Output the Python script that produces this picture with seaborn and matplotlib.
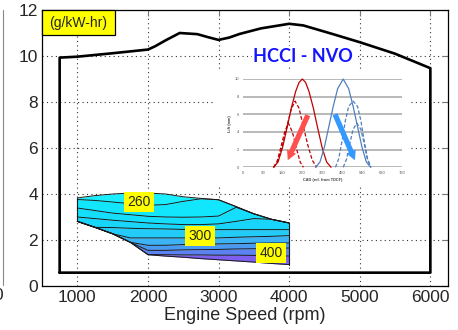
import matplotlib
matplotlib.use("Agg")
import matplotlib.pyplot as plt
import seaborn as sns
from matplotlib.patches import Rectangle
from matplotlib.lines import Line2D

sns.set_style("white")
plt.rcParams['font.family'] = ['Liberation Sans', 'DejaVu Sans']

# ---------------- data ----------------
# full-load BMEP envelope (bar) vs engine speed (rpm)
top_rpm = [750, 1000, 1500, 2000, 2100, 2250, 2450, 2700, 2850, 3000, 3150, 3300, 3600, 4000, 4200, 4600, 5000, 5500, 6000]
top_bmep = [9.93, 9.97, 10.12, 10.28, 10.42, 10.68, 11.0, 10.95, 10.82, 10.7, 10.8, 10.96, 11.2, 11.4, 11.33, 10.97, 10.6, 10.1, 9.47]
floor_bmep = 0.58

# HCCI BSFC map region: contour lines (load, bar) at rpm grid
map_rpm = [1000, 1250, 1500, 1750, 2000, 2250, 2500, 2750, 3000, 3250, 3500, 3750, 4000]
load_top = [3.83, 3.93, 4.00, 4.04, 4.04, 4.00, 3.88, 3.81, 3.75, 3.45, 3.14, 2.90, 2.74]
load_c1 = [3.76, 3.72, 3.65, 3.58, 3.51, 3.54, 3.68, 3.79, 3.75, 3.45, 3.14, 2.90, 2.74]
load_c2 = [3.39, 3.28, 3.17, 3.10, 3.03, 3.00, 2.99, 3.00, 3.04, 3.42, 3.14, 2.90, 2.74]
load_c3 = [3.00, 2.93, 2.86, 2.80, 2.74, 2.70, 2.67, 2.67, 2.70, 2.81, 2.93, 2.90, 2.74]
load_c4 = [2.81, 2.55, 2.54, 2.51, 2.49, 2.48, 2.46, 2.45, 2.45, 2.45, 2.45, 2.45, 2.45]
load_c5 = [2.81, 2.55, 2.27, 2.09, 2.09, 2.09, 2.09, 2.09, 2.09, 2.12, 2.14, 2.16, 2.19]
load_c6 = [2.81, 2.55, 2.27, 1.90, 1.77, 1.77, 1.80, 1.80, 1.83, 1.84, 1.86, 1.87, 1.87]
load_c7 = [2.81, 2.55, 2.27, 1.90, 1.55, 1.55, 1.57, 1.58, 1.59, 1.61, 1.62, 1.64, 1.65]
load_c8 = [2.81, 2.55, 2.27, 1.90, 1.37, 1.36, 1.35, 1.35, 1.34, 1.34, 1.33, 1.32, 1.30]
load_bot = [2.81, 2.55, 2.27, 1.90, 1.36, 1.30, 1.25, 1.19, 1.14, 1.09, 1.04, 0.98, 0.93]
band_colors = ['#19eeff', '#12e6fd', '#14defb', '#18d6fa', '#22cbf8', '#3bb3f5', '#4a9af2', '#5b82f0', '#7f5ff0']

bsfc_labels = ['260', '300', '400']
bsfc_rpm = [1873, 2738, 3743]
bsfc_load = [3.65, 2.17, 1.43]

# inset: valve lift (mm) vs crank angle (deg)
exh_cad = [140, 160, 180, 200, 220, 240, 255, 270, 285, 300, 320, 340, 360, 380, 400]
exh_lift = [0, 0.6, 2.2, 4.4, 6.7, 8.6, 9.6, 10, 9.6, 8.6, 6.7, 4.4, 2.2, 0.6, 0]
exh_mid_cad = [140, 160, 180, 200, 220, 237, 255, 275, 295, 315, 335]
exh_mid_lift = [0, 0.8, 2.5, 4.6, 6.6, 7.5, 6.7, 4.6, 2.5, 0.8, 0]
exh_low_cad = [140, 155, 170, 190, 207, 225, 245, 260, 275]
exh_low_lift = [0, 0.6, 2.0, 4.0, 5.0, 4.0, 2.0, 0.6, 0]
int_cad = [330, 350, 370, 390, 410, 430, 455, 480, 500, 520, 540, 560, 580]
int_lift = [0, 0.6, 2.3, 4.6, 6.9, 8.9, 10, 8.9, 6.9, 4.6, 2.3, 0.6, 0]
int_mid_cad = [420, 435, 450, 465, 480, 500, 520, 535, 550, 565, 580]
int_mid_lift = [0, 1.0, 3.0, 5.3, 6.9, 7.5, 6.9, 5.3, 3.0, 1.0, 0]
int_low_cad = [455, 470, 485, 500, 517, 535, 550, 565, 580]
int_low_lift = [0, 0.9, 2.7, 4.3, 5.0, 4.3, 2.7, 0.9, 0]

# ---------------- figure ----------------
fig = plt.figure(figsize=(4.58, 3.30), dpi=100)
ax = fig.add_axes([42/458, 44/330, 406/458, 276/330])
ax.set_xlim(500, 6250)
ax.set_ylim(0, 12)
ax.set_xticks([1000, 2000, 3000, 4000, 5000, 6000])
ax.set_yticks([0, 2, 4, 6, 8, 10, 12])
ax.set_axisbelow(True)
ax.grid(True, linestyle=(0, (1, 3)), color='#333333', lw=0.8)
ax.tick_params(direction='in', length=4, width=0.8, color='#777777',
               top=True, right=True, labelsize=12.5, pad=3)
for s in ax.spines.values():
    s.set_color('black')
    s.set_linewidth(0.9)
ax.set_xlabel('Engine Speed (rpm)', fontsize=13, labelpad=1)
ax.set_ylabel('')

# white background of the pasted inset
ax.add_patch(Rectangle((213/458, 1-187/330), 195/458, 115/330,
                       transform=fig.transFigure, fc='white', ec='none', zorder=1.5))

# envelope
env_rpm = [top_rpm[0]] + top_rpm + [top_rpm[-1], top_rpm[0]]
env_val = [floor_bmep] + top_bmep + [floor_bmep, floor_bmep]
sns.lineplot(x=env_rpm, y=env_val, sort=False, estimator=None, ax=ax,
             color='black', lw=1.9, zorder=5, legend=False)

# BSFC map bands
lines = [load_top, load_c1, load_c2, load_c3, load_c4, load_c5, load_c6, load_c7, load_c8, load_bot]
for i in range(len(lines) - 1):
    ax.fill_between(map_rpm, lines[i+1], lines[i], color=band_colors[i], lw=0, zorder=2)
for ln in lines:
    sns.lineplot(x=map_rpm, y=ln, sort=False, estimator=None, ax=ax,
                 color='#1a1a1a', lw=0.7, zorder=3, legend=False)
sns.lineplot(x=[map_rpm[0], map_rpm[0]], y=[load_bot[0], load_top[0]], ax=ax,
             estimator=None, color='#1a1a1a', lw=0.8, zorder=3)
sns.lineplot(x=[map_rpm[-1], map_rpm[-1]], y=[load_bot[-1], load_top[-1]], ax=ax,
             estimator=None, color='#1a1a1a', lw=0.8, zorder=3)
for t, xr, yl in zip(bsfc_labels, bsfc_rpm, bsfc_load):
    ax.text(xr, yl, t, fontsize=10, ha='center', va='center', zorder=6,
            bbox=dict(boxstyle='square,pad=0.22', fc='#ffff00', ec='none'))

# units box
ax.add_patch(Rectangle((0, 1-25/276), 73/406, 25/276, transform=ax.transAxes,
                       fc='#ffff00', ec='black', lw=0.9, zorder=6, clip_on=False))
ax.text(36.5/406, 1-12.5/276, '(g/kW-hr)', transform=ax.transAxes, fontsize=10,
        ha='center', va='center', zorder=7)

# title text
ax.text(4200, 10.0, 'HCCI - NVO', fontsize=13, fontweight='bold', color='#1414ff',
        family=['Lato', 'DejaVu Sans'], ha='center', va='center', zorder=6,
        bbox=dict(boxstyle='square,pad=0.1', fc='white', ec='none'))

# partial neighbouring panel at left edge
fig.add_artist(Line2D([3/458, 3/458], [1-10/330, 1-285/330], color='#888888', lw=0.8))
fig.text(-1.5/458, 1-296/330, '0', fontsize=12.5, ha='center', va='center')

# ---------------- inset ----------------
iax = fig.add_axes([242.7/458, 1-167.3/330, 159/458, 88.3/330])
iax.patch.set_alpha(0)
iax.set_xlim(0, 720)
iax.set_ylim(0, 10)
iax.set_xticks(range(0, 721, 90))
iax.set_yticks(range(0, 11, 2))
iax.set_axisbelow(True)
iax.grid(axis='y', color='#a6a6a6', lw=1.1)
iax.grid(axis='x', visible=False)
for s in iax.spines.values():
    s.set_visible(False)
iax.tick_params(length=0, labelsize=3, labelcolor='#595959', pad=2.5)
iax.set_xlabel('CAD (ref. from TDCF)', fontsize=2.8, labelpad=2, color='#404040', fontweight='bold')
iax.set_ylabel('Lift (mm)', fontsize=2.8, labelpad=2, color='#404040', fontweight='bold')

red = '#c00000'
blue = '#4f81bd'
dash = (0, (3, 1.6))
for cx, cy, st in [(exh_cad, exh_lift, '-'), (exh_mid_cad, exh_mid_lift, dash), (exh_low_cad, exh_low_lift, dash)]:
    sns.lineplot(x=cx, y=cy, ax=iax, estimator=None, sort=False, color=red, lw=0.9,
                 linestyle=st, clip_on=False)
for cx, cy, st in [(int_cad, int_lift, '-'), (int_mid_cad, int_mid_lift, dash), (int_low_cad, int_low_lift, dash)]:
    sns.lineplot(x=cx, y=cy, ax=iax, estimator=None, sort=False, color=blue, lw=0.9,
                 linestyle=st, clip_on=False)

arrow_style = 'simple,head_length=0.75,head_width=0.8,tail_width=0.42'
iax.annotate('', xy=(204, 0.8), xytext=(295, 5.9),
             arrowprops=dict(arrowstyle=arrow_style, color='#ff4f4f', lw=0,
                             shrinkA=0, shrinkB=0, mutation_scale=9))
iax.annotate('', xy=(508, 0.8), xytext=(418, 6.0),
             arrowprops=dict(arrowstyle=arrow_style, color='#3399ff', lw=0,
                             shrinkA=0, shrinkB=0, mutation_scale=9))

fig.savefig('out.png', dpi=100)
